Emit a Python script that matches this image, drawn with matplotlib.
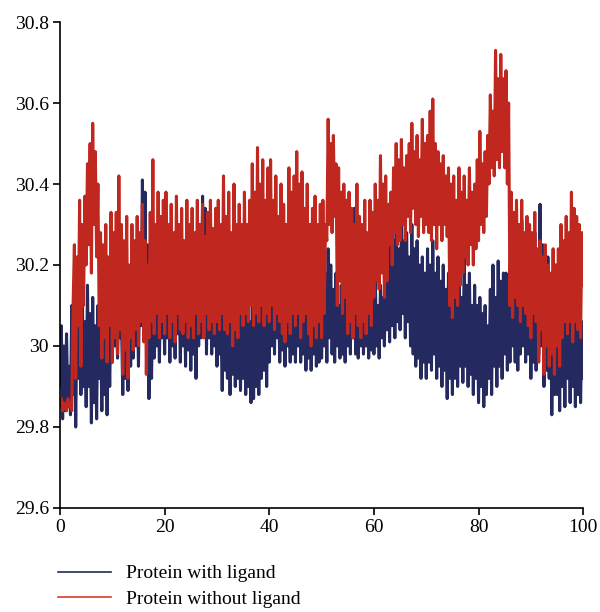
import numpy as np
import matplotlib
matplotlib.use("Agg")
import matplotlib.pyplot as plt
from matplotlib.lines import Line2D

plt.rcParams['font.family'] = ['Liberation Serif', 'DejaVu Serif']

# time axis (ns), one sample every 0.25 ns
time_ns = np.arange(0, 100.25, 0.25)

# values (nm), 20 samples per row = 5 ns
with_ligand = [
    29.90, 30.05, 29.82, 30.00, 29.84, 30.03, 29.86, 29.95, 29.83, 30.10, 29.88, 30.14, 29.80, 30.08, 29.92, 30.12, 29.88, 30.14, 29.90, 30.06,
    29.85, 30.15, 29.90, 30.08, 29.81, 30.12, 29.86, 30.05, 29.82, 30.10, 29.92, 30.04, 29.84, 30.10, 29.88, 30.02, 29.83, 30.08, 29.90, 30.10,
    29.96, 30.13, 30.00, 30.08, 29.97, 30.12, 30.02, 30.06, 29.88, 30.10, 29.92, 30.04, 29.89, 30.08, 29.95, 30.10, 29.97, 30.20, 30.00, 30.14,
    29.95, 30.22, 30.05, 30.41, 30.10, 30.38, 30.02, 30.25, 29.87, 30.10, 29.92, 30.15, 29.97, 30.20, 30.00, 30.12, 29.96, 30.18, 30.02, 30.15,
    29.98, 30.20, 30.02, 30.14, 29.96, 30.18, 30.00, 30.12, 29.97, 30.20, 30.03, 30.15, 29.96, 30.22, 30.00, 30.16, 29.95, 30.25, 29.99, 30.18,
    29.94, 30.20, 29.98, 30.15, 29.92, 30.25, 30.00, 30.30, 30.02, 30.37, 30.05, 30.34, 29.98, 30.28, 30.02, 30.20, 29.98, 30.25, 30.00, 30.15,
    29.95, 30.12, 29.98, 30.08, 29.89, 30.10, 29.94, 30.05, 29.92, 30.12, 29.88, 30.06, 29.93, 30.10, 29.90, 30.04, 29.92, 30.08, 29.89, 30.10,
    29.92, 30.08, 29.88, 30.12, 29.90, 30.06, 29.86, 30.10, 29.87, 30.14, 29.90, 30.16, 29.88, 30.12, 29.92, 30.18, 29.94, 30.12, 29.90, 30.16,
    29.96, 30.18, 30.00, 30.22, 29.98, 30.25, 30.02, 30.14, 29.96, 30.12, 29.99, 30.18, 29.95, 30.15, 30.00, 30.10, 29.96, 30.16, 29.98, 30.12,
    29.96, 30.18, 30.00, 30.20, 29.96, 30.14, 29.98, 30.16, 29.94, 30.10, 29.97, 30.14, 29.94, 30.08, 29.98, 30.12, 29.95, 30.10, 29.96, 30.14,
    29.97, 30.12, 30.00, 30.18, 29.96, 30.24, 30.02, 30.20, 29.98, 30.14, 29.96, 30.18, 30.00, 30.10, 29.97, 30.15, 29.98, 30.12, 29.96, 30.16,
    30.00, 30.20, 29.98, 30.26, 30.02, 30.34, 29.98, 30.20, 29.97, 30.12, 30.00, 30.16, 29.98, 30.10, 30.00, 30.14, 29.97, 30.18, 29.99, 30.12,
    29.98, 30.18, 30.00, 30.10, 29.97, 30.15, 30.02, 30.12, 30.00, 30.18, 30.04, 30.22, 30.01, 30.30, 30.05, 30.26, 30.02, 30.28, 30.06, 30.24,
    30.04, 30.31, 30.08, 30.26, 30.02, 30.28, 30.06, 30.22, 30.00, 30.30, 29.98, 30.24, 29.95, 30.26, 29.97, 30.20, 29.92, 30.22, 29.96, 30.18,
    29.92, 30.24, 29.96, 30.20, 29.94, 30.26, 29.98, 30.18, 29.92, 30.22, 29.95, 30.16, 29.90, 30.20, 29.94, 30.14, 29.87, 30.18, 29.92, 30.12,
    29.88, 30.20, 29.92, 30.13, 29.90, 30.18, 29.95, 30.12, 29.91, 30.22, 29.95, 30.15, 29.90, 30.18, 29.93, 30.10, 29.88, 30.15, 29.92, 30.10,
    29.86, 30.12, 29.90, 30.08, 29.85, 30.10, 29.88, 30.05, 29.92, 30.14, 29.88, 30.20, 29.95, 30.12, 29.90, 30.21, 29.95, 30.16, 29.92, 30.18,
    29.98, 30.18, 29.94, 30.15, 29.96, 30.22, 30.00, 30.16, 29.96, 30.25, 29.94, 30.20, 29.98, 30.31, 30.00, 30.22, 29.96, 30.26, 29.98, 30.20,
    29.92, 30.20, 29.96, 30.28, 29.94, 30.22, 29.98, 30.35, 30.00, 30.25, 29.90, 30.18, 29.94, 30.22, 29.92, 30.15, 29.83, 30.12, 29.88, 30.20,
    29.88, 30.20, 29.84, 30.22, 29.90, 30.18, 29.85, 30.25, 29.92, 30.16, 29.86, 30.20, 29.90, 30.18, 29.85, 30.12, 29.88, 30.10, 29.86, 30.06,
    29.92,
]

without_ligand = [
    29.85, 29.87, 29.84, 29.86, 29.85, 29.84, 29.87, 29.85, 29.86, 29.84, 30.10, 30.25, 29.92, 30.22, 30.05, 30.36, 29.95, 30.30, 30.10, 30.37,
    30.20, 30.45, 30.25, 30.50, 30.18, 30.55, 30.30, 30.48, 30.22, 30.40, 30.05, 30.28, 29.97, 30.25, 30.02, 30.30, 29.96, 30.22, 30.05, 30.33,
    29.96, 30.28, 30.02, 30.33, 29.98, 30.42, 30.04, 30.30, 29.93, 30.26, 29.99, 30.32, 29.92, 30.20, 30.02, 30.30, 29.99, 30.26, 30.04, 30.32,
    30.00, 30.28, 30.06, 30.35, 30.01, 30.26, 29.93, 30.20, 30.02, 30.33, 30.06, 30.46, 30.03, 30.30, 30.08, 30.38, 30.02, 30.32, 30.06, 30.36,
    30.03, 30.38, 30.08, 30.30, 30.02, 30.35, 30.06, 30.28, 30.01, 30.37, 30.08, 30.30, 30.04, 30.34, 30.03, 30.26, 30.06, 30.36, 30.02, 30.30,
    30.05, 30.34, 30.02, 30.28, 30.08, 30.36, 30.03, 30.30, 30.06, 30.35, 30.02, 30.27, 30.08, 30.33, 30.04, 30.36, 30.06, 30.29, 30.03, 30.34,
    30.06, 30.36, 30.04, 30.30, 30.08, 30.42, 30.04, 30.32, 30.03, 30.38, 30.06, 30.28, 30.00, 30.40, 30.04, 30.30, 30.02, 30.35, 30.08, 30.30,
    30.05, 30.38, 30.08, 30.30, 30.06, 30.36, 30.10, 30.45, 30.05, 30.38, 30.08, 30.49, 30.06, 30.40, 30.10, 30.46, 30.05, 30.36, 30.08, 30.44,
    30.06, 30.46, 30.10, 30.36, 30.04, 30.42, 30.08, 30.32, 30.06, 30.40, 30.03, 30.35, 30.01, 30.30, 30.06, 30.44, 30.03, 30.38, 30.08, 30.42,
    30.05, 30.48, 30.08, 30.40, 30.02, 30.43, 30.06, 30.34, 30.08, 30.40, 30.03, 30.30, 30.00, 30.34, 30.05, 30.37, 30.02, 30.30, 30.06, 30.35,
    30.02, 30.36, 30.08, 30.30, 30.26, 30.56, 30.30, 30.50, 30.28, 30.52, 30.32, 30.45, 30.10, 30.44, 30.16, 30.38, 30.08, 30.40, 30.12, 30.36,
    30.03, 30.38, 30.06, 30.34, 30.02, 30.30, 30.08, 30.40, 30.05, 30.32, 30.02, 30.30, 30.06, 30.36, 30.03, 30.28, 30.08, 30.36, 30.05, 30.33,
    30.12, 30.40, 30.16, 30.36, 30.14, 30.47, 30.18, 30.40, 30.12, 30.42, 30.16, 30.35, 30.25, 30.38, 30.20, 30.44, 30.28, 30.50, 30.25, 30.46,
    30.26, 30.51, 30.30, 30.44, 30.26, 30.47, 30.32, 30.50, 30.28, 30.55, 30.34, 30.48, 30.30, 30.52, 30.27, 30.46, 30.32, 30.56, 30.28, 30.50,
    30.30, 30.52, 30.28, 30.58, 30.26, 30.61, 30.30, 30.50, 30.24, 30.48, 30.30, 30.45, 30.26, 30.47, 30.30, 30.42, 30.27, 30.44, 30.10, 30.40,
    30.07, 30.42, 30.12, 30.36, 30.10, 30.44, 30.15, 30.38, 30.18, 30.42, 30.22, 30.36, 30.20, 30.44, 30.25, 30.38, 30.20, 30.40, 30.24, 30.46,
    30.26, 30.53, 30.30, 30.45, 30.28, 30.48, 30.32, 30.52, 30.40, 30.62, 30.44, 30.58, 30.42, 30.73, 30.46, 30.66, 30.44, 30.72, 30.48, 30.66,
    30.44, 30.68, 30.40, 30.60, 30.10, 30.38, 30.07, 30.33, 30.12, 30.36, 30.10, 30.30, 30.06, 30.36, 30.10, 30.28, 30.08, 30.32, 30.05, 30.30,
    30.02, 30.28, 30.08, 30.33, 30.06, 30.24, 29.96, 30.26, 30.04, 30.22, 29.93, 30.25, 30.00, 30.20, 29.95, 30.18, 29.98, 30.24, 29.93, 30.20,
    30.00, 30.24, 29.95, 30.30, 30.02, 30.26, 30.06, 30.32, 30.03, 30.28, 30.06, 30.38, 30.01, 30.34, 30.06, 30.32, 30.04, 30.30, 30.02, 30.28,
    30.15,
]

labels = ["Protein with ligand", "Protein without ligand"]
BLUE = "#24295f"
RED = "#c0271f"

fig = plt.figure(figsize=(6.0, 6.12), dpi=100)
ax = fig.add_axes([0.1, 0.17, 0.872, 0.794])

ax.plot(time_ns, with_ligand, color=BLUE, linewidth=2.2)
ax.plot(time_ns, without_ligand, color=RED, linewidth=2.2)

ax.set_xlim(0, 100)
ax.set_ylim(29.6, 30.8)
ax.set_xticks([0, 20, 40, 60, 80, 100])
ax.set_yticks([29.6, 29.8, 30.0, 30.2, 30.4, 30.6, 30.8])
ax.set_yticklabels(["29.6", "29.8", "30", "30.2", "30.4", "30.6", "30.8"])
ax.tick_params(direction="out", length=5, width=1.2, labelsize=14, colors="black", pad=3)
for side in ["top", "right"]:
    ax.spines[side].set_visible(False)
for side in ["left", "bottom"]:
    ax.spines[side].set_linewidth(1.2)
    ax.spines[side].set_color("black")

handles = [Line2D([], [], color=BLUE, linewidth=1.2),
           Line2D([], [], color="#d9392c", linewidth=1.2)]
fig.legend(handles, labels, loc="center left", bbox_to_anchor=(0.097, 0.042),
           frameon=False, fontsize=14, handlelength=2.7, handletextpad=0.8,
           labelspacing=0.4, borderpad=0, borderaxespad=0)

fig.savefig("out.png", dpi=100)
